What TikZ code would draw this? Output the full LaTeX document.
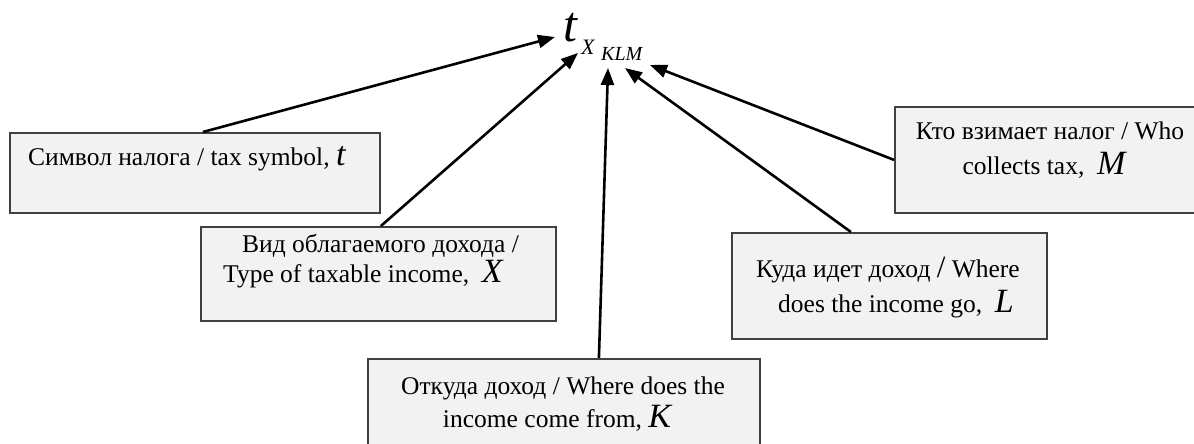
\documentclass[tikz,border=0pt]{standalone}
\usepackage{fontspec}
\setmainfont{Liberation Serif}
\usetikzlibrary{arrows.meta,calc}
\definecolor{boxfill}{HTML}{F2F2F2}
\definecolor{boxline}{HTML}{404040}
\newcommand\bigit[1]{{\fontsize{34}{34}\selectfont\itshape #1}}
\begin{document}
\begin{tikzpicture}[x=1pt,y=-1pt,
  box/.style={draw=boxline,line width=1.8pt,fill=boxfill,anchor=north west,inner sep=0pt},
  lbl/.style={font=\fontsize{25.5}{28}\selectfont,inner sep=0pt},
  arr/.style={line width=2.6pt,-{Triangle[length=17pt,width=13pt]}},
]
\useasboundingbox (0,0) rectangle (1194,444);

% boxes
\node[box,minimum width=370pt,minimum height=80pt] (b1) at (9,132) {};
\node[box,minimum width=355pt,minimum height=94pt] (b2) at (200,226) {};
\node[box,minimum width=392pt,minimum height=110pt] (b3) at (367,358) {};
\node[box,minimum width=315pt,minimum height=106pt] (b4) at (731,232) {};
\node[box,minimum width=312pt,minimum height=106pt] (b5) at (894,106) {};

% texts
\node[lbl,anchor=base west] (t1) at (28,165) {Символ налога / tax symbol, \bigit{t}};
\node[lbl,anchor=base west] (t2a) at (242,252) {Вид облагаемого дохода /};
\node[lbl,anchor=base west] (t2b) at (223,282) {Type of taxable income, \ \bigit{X}};
\node[lbl,anchor=base] (t3a) at (563,394) {Откуда доход / Where does the};
\node[lbl,anchor=base] (t3b) at (557,427) {income come from, \bigit{K}};
\node[lbl,anchor=base] (t4a) at (888,277) {Куда идет доход {\fontsize{31}{31}\selectfont/} Where};
\node[lbl,anchor=base] (t4b) at (896,312) {does the income go, \ \bigit{L}};
\node[lbl,anchor=base] (t5a) at (1050,139) {Кто взимает налог / Who};
\node[lbl,anchor=base] (t5b) at (1044,174) {collects tax, \ \bigit{M}};

% main symbol
\node[inner sep=0pt,anchor=base west,font=\fontsize{50}{50}\selectfont\itshape] (tt) at (563,42) {t};
\node[inner sep=0pt,anchor=base west,font=\fontsize{22}{22}\selectfont\itshape] (tx) at (581,55) {X};
\node[inner sep=0pt,anchor=base west,font=\fontsize{20}{20}\selectfont\itshape] (tk) at (601,61) {KLM};

% arrow targets
\coordinate (p1) at (555,37);
\coordinate (p2) at (578,53);
\coordinate (p3) at (608,68);
\coordinate (p4) at (625,68);
\coordinate (p5) at (650,65);

\draw[arr] ([xshift=8pt]b1.north) -- (p1);
\draw[arr] ([xshift=2.5pt]b2.north) -- (p2);
\draw[arr] ([xshift=35pt]b3.north) -- (p3);
\draw[arr] ([xshift=-38.5pt]b4.north) -- (p4);
\draw[arr] (b5.west) -- (p5);
\end{tikzpicture}
\end{document}
